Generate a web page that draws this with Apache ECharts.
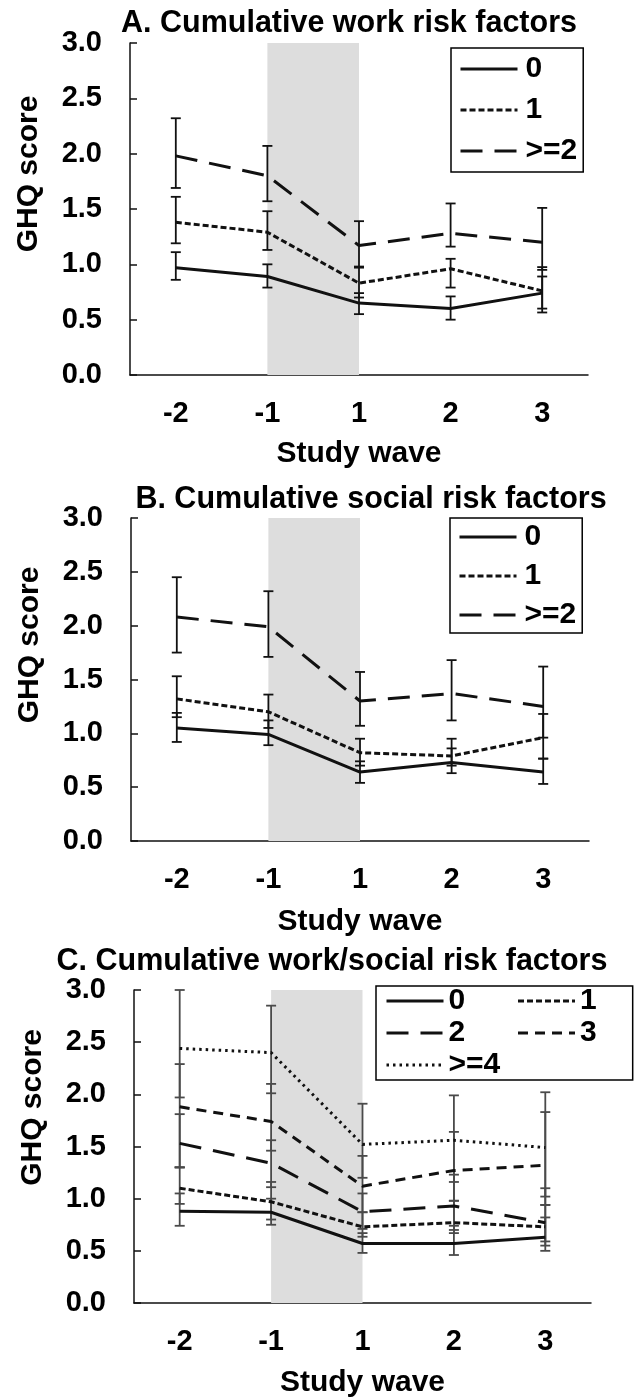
<!DOCTYPE html>
<html>
<head>
<meta charset="utf-8">
<script src="https://cdn.jsdelivr.net/npm/echarts@6/dist/echarts.min.js"></script>
<style>
html,body{margin:0;padding:0;background:#fff;}
#chart{width:640px;height:1399px;}
</style>
</head>
<body>
<div id="chart"></div>
<script>
// ---- data ----
const waves = ['-2', '-1', '1', '2', '3'];
const yMin = 0, yMax = 3, yStep = 0.5;

// Panel A: cumulative work risk factors
const A0 = [0.97, 0.89, 0.65, 0.60, 0.74];
const A0lo = [0.86, 0.79, 0.55, 0.50, 0.60];
const A0hi = [1.11, 1.00, 0.74, 0.71, 0.89];
const A1 = [1.38, 1.29, 0.83, 0.96, 0.76];
const A1lo = [1.19, 1.13, 0.70, 0.79, 0.565];
const A1hi = [1.61, 1.48, 0.97, 1.05, 0.975];
const A2 = [1.98, 1.80, 1.17, 1.28, 1.20];
const A2lo = [1.69, 1.57, 0.98, 1.16, 0.95];
const A2hi = [2.32, 2.07, 1.39, 1.55, 1.51];

// Panel B: cumulative social risk factors
const B0 = [1.05, 0.99, 0.64, 0.73, 0.64];
const B0lo = [0.92, 0.89, 0.54, 0.63, 0.53];
const B0hi = [1.19, 1.12, 0.74, 0.86, 0.765];
const B1 = [1.32, 1.20, 0.82, 0.79, 0.96];
const B1lo = [1.15, 1.05, 0.70, 0.70, 0.765];
const B1hi = [1.53, 1.36, 0.95, 0.95, 1.18];
const B2 = [2.08, 1.99, 1.30, 1.37, 1.25];
const B2lo = [1.75, 1.71, 1.07, 1.12, 0.96];
const B2hi = [2.45, 2.32, 1.57, 1.68, 1.62];

// Panel C: cumulative work/social risk factors
const C0 = [0.88, 0.87, 0.57, 0.57, 0.63];
const C0lo = [0.74, 0.75, 0.48, 0.46, 0.50];
const C0hi = [1.05, 1.00, 0.67, 0.74, 0.82];
const C1 = [1.10, 0.97, 0.73, 0.77, 0.73];
const C1lo = [0.95, 0.80, 0.635, 0.67, 0.55];
const C1hi = [1.30, 1.16, 0.87, 0.98, 0.94];
const C2 = [1.53, 1.34, 0.875, 0.93, 0.77];
const C2lo = [1.30, 1.11, 0.71, 0.70, 0.59];
const C2hi = [1.81, 1.56, 1.05, 1.23, 1.10];
const C3 = [1.88, 1.74, 1.12, 1.27, 1.32];
const C3lo = [1.30, 1.46, 0.87, 0.98, 0.94];
const C3hi = [2.29, 2.10, 1.41, 1.64, 1.83];
const C4 = [2.44, 2.40, 1.52, 1.56, 1.49];
const C4lo = [1.97, 2.01, 1.20, 1.16, 1.02];
const C4hi = [3.00, 2.85, 1.91, 1.99, 2.02];

const titles = ['A. Cumulative work risk factors', 'B. Cumulative social risk factors', 'C. Cumulative work/social risk factors'];
const xName = 'Study wave';
const yName = 'GHQ score';
const shadeFrom = '-1', shadeTo = '1';

// ---- styling ----
const FONT = '"Liberation Sans", Arial, sans-serif';
const INK = '#111';
const styles = {
  solid: { type: 'solid', width: 3 },
  short: { type: [6, 3], width: 3 },
  long: { type: [22, 12], width: 3 },
  medium: { type: [10, 7], width: 3 },
  dot: { type: [2.5, 4], width: 3 }
};

const panels = [
  { grid: { left: 130, top: 43, width: 458, height: 332 }, title: { x: 349, y: 8 },
    yNameShift: 70, xNameGap: 64,
    series: [
      { name: '0', v: A0, lo: A0lo, hi: A0hi, st: 'solid' },
      { name: '1', v: A1, lo: A1lo, hi: A1hi, st: 'short' },
      { name: '>=2', v: A2, lo: A2lo, hi: A2hi, st: 'long' }
    ], errColor: '#111' },
  { grid: { left: 131, top: 518, width: 458, height: 323 }, title: { x: 371, y: 484 },
    yNameShift: 69, xNameGap: 66,
    series: [
      { name: '0', v: B0, lo: B0lo, hi: B0hi, st: 'solid' },
      { name: '1', v: B1, lo: B1lo, hi: B1hi, st: 'short' },
      { name: '>=2', v: B2, lo: B2lo, hi: B2hi, st: 'long' }
    ], errColor: '#111' },
  { grid: { left: 134, top: 990, width: 457, height: 326 }, title: { x: 332, y: 946 },
    yNameShift: 78, xNameGap: 65,
    series: [
      { name: '0', v: C0, lo: C0lo, hi: C0hi, st: 'solid' },
      { name: '1', v: C1, lo: C1lo, hi: C1hi, st: 'short' },
      { name: '2', v: C2, lo: C2lo, hi: C2hi, st: 'long' },
      { name: '3', v: C3, lo: C3lo, hi: C3hi, st: 'medium' },
      { name: '>=4', v: C4, lo: C4lo, hi: C4hi, st: 'dot' }
    ], errColor: '#4a4a4a' }
];

function errRenderer(color) {
  return function (params, api) {
    const x = api.value(0);
    const pHi = api.coord([x, api.value(2)]);
    const pLo = api.coord([x, api.value(1)]);
    const w = 5;
    const st = { stroke: color, lineWidth: 1.8 };
    return {
      type: 'group',
      children: [
        { type: 'line', shape: { x1: pHi[0], y1: pHi[1], x2: pLo[0], y2: pLo[1] }, style: st },
        { type: 'line', shape: { x1: pHi[0] - w, y1: pHi[1], x2: pHi[0] + w, y2: pHi[1] }, style: st },
        { type: 'line', shape: { x1: pLo[0] - w, y1: pLo[1], x2: pLo[0] + w, y2: pLo[1] }, style: st }
      ]
    };
  };
}

const legendText = { fontFamily: FONT, fontSize: 30, fontWeight: 'bold', color: '#000' };
const legendCommon = {
  itemWidth: 57, itemHeight: 14, selectedMode: false,
  borderColor: '#000', borderWidth: 1.5,
  itemStyle: { opacity: 0 },
  lineStyle: { width: 3 }
};
const colText = { width: 66 };

const option = {
  backgroundColor: '#fff',
  animation: false,
  textStyle: { fontFamily: FONT },
  title: [], grid: [], xAxis: [], yAxis: [], series: [],
  legend: [
    Object.assign({ data: ['0', '1', '>=2'], orient: 'vertical', left: 451, top: 48,
      padding: [6, 6, 6, 8], itemGap: 11,
      textStyle: Object.assign({ lineHeight: 26, padding: [0, 0, 0, 3] }, legendText) }, legendCommon),
    Object.assign({ data: ['0', '1', '>=2'], orient: 'vertical', left: 450, top: 518,
      padding: [4, 6, 3, 8], itemGap: 9,
      textStyle: Object.assign({ lineHeight: 26, padding: [0, 0, 0, 3] }, legendText) }, legendCommon),
    Object.assign({
      data: [
        { name: '0', textStyle: colText }, { name: '1' },
        { name: '2', textStyle: colText }, { name: '3' },
        { name: '>=4' }
      ],
      orient: 'horizontal', left: 376, top: 986, width: 222,
      padding: [0, 36, 0, 9], itemGap: 2,
      textStyle: Object.assign({ lineHeight: 22 }, legendText) }, legendCommon)
  ]
};

panels.forEach((p, i) => {
  option.title.push({
    text: titles[i], left: p.title.x, top: p.title.y, textAlign: 'center', padding: 0,
    textStyle: { fontFamily: FONT, fontSize: 30.5, fontWeight: 'bold', color: '#000' }
  });
  option.grid.push(Object.assign({ containLabel: false }, p.grid));
  option.xAxis.push({
    type: 'category', gridIndex: i, data: waves, boundaryGap: true,
    name: xName, nameLocation: 'middle', nameGap: p.xNameGap,
    nameTextStyle: { fontFamily: FONT, fontSize: 30, fontWeight: 'bold', color: '#000' },
    axisLine: { lineStyle: { color: INK, width: 1.5 } },
    axisTick: { alignWithLabel: true, inside: true, length: 7, lineStyle: { color: INK, width: 1.5 } },
    axisLabel: { margin: 24, fontFamily: FONT, fontSize: 29, fontWeight: 'bold', color: '#000' },
    splitLine: { show: false }
  });
  option.yAxis.push({
    type: 'value', gridIndex: i, min: yMin, max: yMax, interval: yStep,
    name: yName, nameLocation: 'middle', nameGap: 86, nameRotate: 90,
    nameTextStyle: { fontFamily: FONT, fontSize: 30, fontWeight: 'bold', color: '#000',
      padding: [0, 0, 0, p.yNameShift] },
    axisLine: { show: true, lineStyle: { color: INK, width: 1.5 } },
    axisTick: { show: true, inside: true, length: 7, lineStyle: { color: INK, width: 1.5 } },
    axisLabel: { margin: 28, fontFamily: FONT, fontSize: 29, fontWeight: 'bold', color: '#000',
      formatter: v => v.toFixed(1) },
    splitLine: { show: false }
  });
  // shaded period + error bars
  p.series.forEach((s, k) => {
    option.series.push({
      type: 'custom', xAxisIndex: i, yAxisIndex: i, z: 2, silent: true,
      renderItem: errRenderer(p.errColor),
      encode: { x: 0, y: [1, 2] },
      data: waves.map((w, j) => [j, s.lo[j], s.hi[j]]),
      markArea: k === 0 ? {
        silent: true, itemStyle: { color: '#dddddd' },
        data: [[{ xAxis: shadeFrom, yAxis: yMin }, { xAxis: shadeTo, yAxis: yMax }]]
      } : undefined
    });
  });
  p.series.forEach(s => {
    const ls = styles[s.st];
    option.series.push({
      name: s.name, type: 'line', xAxisIndex: i, yAxisIndex: i, z: 3,
      data: s.v, symbol: 'none', showSymbol: false,
      lineStyle: { color: '#111', width: ls.width, type: ls.type },
      itemStyle: { color: '#111' }
    });
  });
});

const chart = echarts.init(document.getElementById('chart'), null, { renderer: 'canvas' });
chart.setOption(option);
</script>
</body>
</html>
